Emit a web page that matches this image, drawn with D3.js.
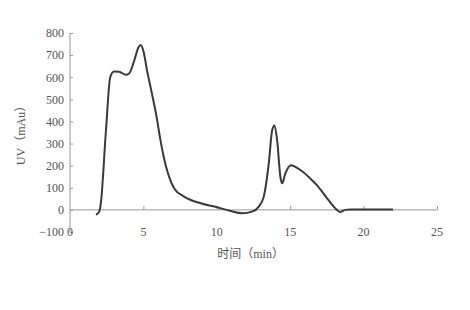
<!DOCTYPE html>
<html>
<head>
<meta charset="utf-8">
<script src="https://cdn.jsdelivr.net/npm/d3@7"></script>
<style>
  body { margin: 0; background: #fff; }
  text { font-family: "Liberation Serif", "Noto Sans CJK SC", serif; fill: #555; }
</style>
</head>
<body>
<div id="chart"></div>
<script>
// time (min) and UV (mAu)
var times = [1.77, 1.99, 2.1, 2.45, 2.74, 3.0, 3.35, 3.8, 4.03, 4.37, 4.66, 4.82, 5.0, 5.25, 5.6, 5.9, 6.15, 6.4, 6.7, 7.1, 7.77, 8.9, 10.03, 10.94, 11.73, 12.4, 12.86, 13.2, 13.54, 13.77, 13.93, 14.11, 14.33, 14.45, 14.67, 15.06, 15.47, 15.9, 16.4, 16.82, 17.2, 17.6, 18.18, 18.4, 18.75, 19.1, 22.0];
var uv = [-22, -8, 30, 360, 600, 626, 625, 611, 617, 674, 734, 746, 719, 630, 520, 420, 320, 235, 160, 97, 60, 30, 12, -5, -15, -8, 15, 60, 210, 360, 382, 315, 150, 120, 165, 202, 190, 170, 140, 112, 80, 45, 0, -10, 0, 2, 2];
var xTicks = [0, 5, 10, 15, 20, 25];
var yTicks = [-100, 0, 100, 200, 300, 400, 500, 600, 700, 800];

var svgWidth = 470, svgHeight = 310;
var margin = { top: 33, right: 33, bottom: 78, left: 70 };
var width = svgWidth - margin.left - margin.right;
var height = svgHeight - margin.top - margin.bottom;

var svg = d3.select("#chart").append("svg")
    .attr("width", svgWidth)
    .attr("height", svgHeight)
    .append("g")
    .attr("transform", "translate(" + margin.left + "," + margin.top + ")");

var x = d3.scaleLinear().domain([0, 25]).range([0, width]);
var y = d3.scaleLinear().domain([-100, 800]).range([height, 0]);

// y axis, ticks pointing inward
var yAxis = svg.append("g")
    .call(d3.axisRight(y).tickValues(yTicks).tickSize(3).tickFormat(d3.format("d")));
yAxis.select(".domain").attr("stroke", "#999").attr("d", "M0," + y(-100) + "V" + y(800));
yAxis.selectAll(".tick line").attr("stroke", "#999");
yAxis.selectAll(".tick text").attr("x", -6).attr("text-anchor", "end").style("font-size", "12px");

// x axis sits on zero, labels at the bottom
var xAxis = svg.append("g")
    .attr("transform", "translate(0," + y(0) + ")")
    .call(d3.axisTop(x).tickValues(xTicks.slice(1)).tickSize(4).tickFormat(""));
xAxis.select(".domain").attr("stroke", "#999").attr("d", "M0,0H" + width);
xAxis.selectAll(".tick line").attr("stroke", "#999");

svg.append("g").selectAll("text")
    .data(xTicks)
    .enter()
    .append("text")
    .attr("x", function (d) { return x(d); })
    .attr("y", y(-100) + 4)
    .attr("text-anchor", "middle")
    .style("font-size", "12px")
    .text(function (d) { return d; });

// the trace
var line = d3.line()
    .x(function (d) { return x(d[0]); })
    .y(function (d) { return y(d[1]); })
    .curve(d3.curveMonotoneX);

svg.append("path")
    .datum(d3.zip(times, uv))
    .attr("fill", "none")
    .attr("stroke", "#3a3a3a")
    .attr("stroke-width", 2)
    .attr("d", line);

// axis titles
svg.append("text")
    .attr("x", x(12.3))
    .attr("y", height + 26)
    .attr("text-anchor", "middle")
    .style("font-size", "12px")
    .text("时间（min）");

svg.append("text")
    .attr("transform", "translate(-45," + y(350) + ") rotate(-90)")
    .attr("text-anchor", "middle")
    .style("font-size", "12px")
    .text("UV（mAu）");
</script>
</body>
</html>
